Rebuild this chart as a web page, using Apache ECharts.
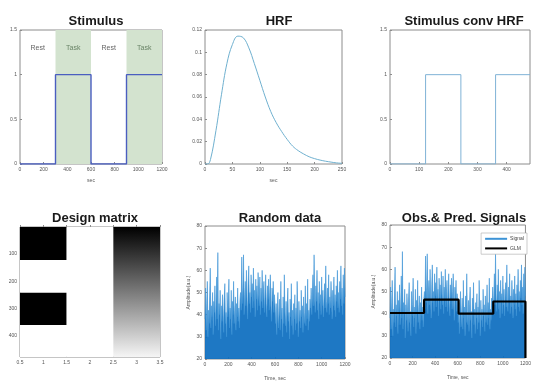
<!DOCTYPE html>
<html>
<head>
<meta charset="utf-8">
<script src="https://cdn.jsdelivr.net/npm/echarts@6/dist/echarts.min.js"></script>
<style>
  html, body { margin: 0; padding: 0; background: #fff; }
  #main { width: 534px; height: 383px; }
</style>
</head>
<body>
<div id="main"></div>
<script>
// ---------- data ----------
// stimulus (boxcar), sec
var stimTime = [0, 300, 300, 600, 600, 900, 900, 1200];
var stimVal = [0, 0, 1, 1, 0, 0, 1, 1];
var taskBlocks = [[300, 600], [900, 1200]];
var blockNames = ['Rest', 'Task', 'Rest', 'Task'];
var blockCenters = [150, 450, 750, 1050];

// HRF, sampled every 10 sec
var hrfTime = [0, 5, 10, 20, 30, 40, 50, 60, 70, 80, 90, 100, 110, 120, 130, 140, 150,
  160, 170, 180, 190, 200, 210, 220, 230, 240, 250];
var hrfVal = [0, 0, 0.004, 0.03, 0.062, 0.09, 0.107, 0.1145, 0.113, 0.104, 0.09, 0.075,
  0.06, 0.047, 0.037, 0.029, 0.022, 0.016, 0.012, 0.009, 0.0065, 0.0048, 0.0035,
  0.0025, 0.0017, 0.001, 0.0006];

// stimulus convolved with HRF (scans)
var convTime = [0, 122, 122, 243, 243, 362, 362, 480];
var convVal = [0, 0, 1, 1, 0, 0, 1, 1];

// design matrix columns: [rowStart, rowEnd, level]
var designReg = [[0, 122, 0], [122, 243, 1], [243, 362, 0], [362, 480, 1]];
var designConst = [[0, 480, 1]];
var designTrend = [0, 0.96]; // gray level at top / bottom

// observed signal, one value every 5 sec
var sigStep = 5;
var signal = [
  38, 52, 33, 45, 55, 30, 42, 36, 48, 61, 34, 44, 39, 50, 31, 46, 41, 53, 35, 43,
  57, 38, 68, 33, 45, 40, 51, 29, 44, 37, 49, 42, 32, 47, 54, 36, 41, 30, 50, 39,
  44, 56, 34, 43, 38, 51, 31, 46, 40, 55, 36, 42, 48, 33, 45, 39, 52, 37, 43, 34, 47,
  50, 42, 66, 45, 52, 67, 40, 49, 55, 44, 60, 47, 38, 53, 62, 45, 50, 41, 58, 48,
  54, 43, 61, 46, 51, 39, 56, 47, 53, 42, 59, 49, 44, 57, 40, 52, 46, 60, 43, 50,
  55, 41, 48, 58, 45, 39, 53, 47, 56, 42, 50, 58, 44, 37, 52, 46, 55, 41, 49, 44,
  36, 45, 31, 42, 50, 34, 40, 47, 33, 55, 38, 43, 30, 48, 36, 58, 41, 35, 46, 32,
  44, 52, 37, 41, 29, 47, 39, 54, 35, 42, 31, 45, 38, 49, 33, 43, 36, 55, 40, 30,
  46, 37, 42, 34, 51, 39, 44, 32, 48, 36, 41, 53, 35, 45, 38, 56, 33, 42, 37, 47,
  43, 52, 40, 48, 58, 44, 67, 47, 41, 53, 46, 60, 42, 50, 38, 55, 45, 49, 40, 57,
  44, 51, 39, 47, 54, 43, 62, 46, 41, 52, 45, 58, 40, 48, 43, 55, 47, 38, 51, 44,
  57, 42, 49, 39, 53, 46, 60, 43, 50, 41, 55, 47, 62, 44, 52, 40, 58, 45, 61, 48
];

// GLM prediction
var glmTime = [0, 302, 302, 608, 608, 915, 915, 1200, 1200];
var glmVal = [40.3, 40.3, 46.3, 46.3, 40, 40, 45.5, 45.5, 20];

// ---------- helpers ----------
function pairs(xs, ys) {
  return xs.map(function (x, i) { return [x, ys[i]]; });
}
var signalData = signal.map(function (v, i) { return [i * sigStep, v]; });

var tickFont = {fontSize: 5, color: '#555', margin: 3, formatter: function (v) { return String(v); }};
var boxColor = '#8c8c8c';

function xAx(idx, min, max, interval, name, extra) {
  var ax = {
    gridIndex: idx, type: 'value', min: min, max: max, interval: interval,
    axisLine: {show: false}, splitLine: {show: false},
    axisTick: {inside: true, length: 2, lineStyle: {color: boxColor}},
    axisLabel: tickFont,
    name: name || '', nameLocation: 'middle', nameGap: 14,
    nameTextStyle: {fontSize: 5, color: '#555'}
  };
  return Object.assign(ax, extra || {});
}
function yAx(idx, min, max, interval, name, extra) {
  var ax = {
    gridIndex: idx, type: 'value', min: min, max: max, interval: interval,
    axisLine: {show: false}, splitLine: {show: false},
    axisTick: {inside: true, length: 2, lineStyle: {color: boxColor}},
    axisLabel: tickFont,
    name: name || '', nameLocation: 'middle', nameGap: 14, nameRotate: 90,
    nameTextStyle: {fontSize: 5, color: '#555'}
  };
  return Object.assign(ax, extra || {});
}

var grids = [
  {left: 20, top: 30, width: 142, height: 134},
  {left: 205, top: 30, width: 137, height: 134},
  {left: 390, top: 30, width: 140, height: 134},
  {left: 20, top: 227, width: 140, height: 130},
  {left: 205, top: 226, width: 140, height: 133},
  {left: 390, top: 225, width: 139, height: 133}
].map(function (g) {
  return Object.assign({show: true, borderColor: boxColor, borderWidth: 1, backgroundColor: 'transparent'}, g);
});

var titleStyle = {fontSize: 13, fontWeight: 'bold', color: '#1a1a1a', fontFamily: 'Liberation Sans'};
function ttl(text, x, y) {
  return {text: text, left: x, top: y, textAlign: 'center', textStyle: titleStyle};
}

var chart = echarts.init(document.getElementById('main'));

var option = {
  backgroundColor: '#fff',
  animation: false,
  textStyle: {fontFamily: 'Liberation Sans'},
  title: [
    ttl('Stimulus', 91, 10),
    ttl('HRF', 274, 10),
    ttl('Stimulus conv HRF', 459, 10),
    ttl('Design matrix', 90, 207),
    ttl('Random data', 275, 207),
    ttl('Obs.& Pred. Signals', 459, 207)
  ],
  grid: grids,
  legend: {
    right: 7, top: 233, orient: 'vertical',
    data: ['Signal', 'GLM'],
    itemWidth: 22, itemHeight: 7, itemGap: 4,
    padding: [3, 3],
    borderColor: '#aaa', borderWidth: 0.6, backgroundColor: '#fff',
    align: 'left',
    itemStyle: {opacity: 0},
    textStyle: {fontSize: 5, color: '#444', padding: [0, 0, 0, -2]}
  },
  xAxis: [
    xAx(0, 0, 1200, 200, 'sec'),
    xAx(1, 0, 250, 50, 'sec'),
    xAx(2, 0, 480, 100, '', {axisLabel: Object.assign({}, tickFont, {showMaxLabel: false})}),
    xAx(3, 0.5, 3.5, 0.5, ''),
    xAx(4, 0, 1200, 200, 'Time, sec', {nameGap: 17}),
    xAx(5, 0, 1200, 200, 'Time, sec', {nameGap: 17})
  ],
  yAxis: [
    yAx(0, 0, 1.5, 0.5),
    yAx(1, 0, 0.12, 0.02),
    yAx(2, 0, 1.5, 0.5),
    yAx(3, 0, 480, 100, '', {inverse: true, axisLabel: Object.assign({}, tickFont, {showMinLabel: false, showMaxLabel: false})}),
    yAx(4, 20, 80, 10, 'Amplitude(a.u.)', {nameGap: 14}),
    yAx(5, 20, 80, 10, 'Amplitude(a.u.)', {nameGap: 14})
  ],
  series: [
    {
      name: 'stim', type: 'line', xAxisIndex: 0, yAxisIndex: 0,
      data: pairs(stimTime, stimVal), symbol: 'none',
      lineStyle: {color: '#4a5ec0', width: 1.4}, z: 3,
      markArea: {
        silent: true,
        itemStyle: {color: '#d3e3cf'},
        data: taskBlocks.map(function (b) { return [{xAxis: b[0], yAxis: 0}, {xAxis: b[1], yAxis: 1.5}]; })
      }
    },
    {
      name: 'blocks', type: 'scatter', xAxisIndex: 0, yAxisIndex: 0,
      symbolSize: 0, silent: true, z: 4,
      data: blockCenters.map(function (c, i) {
        return {value: [c, 1.3], name: blockNames[i],
          label: {color: blockNames[i] === 'Task' ? '#4f6b4c' : '#3a3a3a'}};
      }),
      label: {
        show: true, position: 'inside', fontSize: 7,
        formatter: function (p) { return p.name; }
      },
      itemStyle: {color: 'transparent'}
    },
    {
      name: 'hrf', type: 'line', xAxisIndex: 1, yAxisIndex: 1, smooth: 0.4,
      data: pairs(hrfTime, hrfVal), symbol: 'none',
      lineStyle: {color: '#6fb0cf', width: 1}
    },
    {
      name: 'conv', type: 'line', xAxisIndex: 2, yAxisIndex: 2,
      data: pairs(convTime, convVal), symbol: 'none',
      lineStyle: {color: '#7fb2d6', width: 1}
    },
    {
      name: 'design', type: 'custom', xAxisIndex: 3, yAxisIndex: 3,
      data: [].concat(
        designReg.map(function (d) { return [1, d[0], d[1], d[2]]; }),
        designConst.map(function (d) { return [2, d[0], d[1], d[2]]; }),
        [[3, 0, 480, -1]]
      ),
      renderItem: function (params, api) {
        var col = api.value(0);
        var p0 = api.coord([col - 0.5, api.value(1)]);
        var p1 = api.coord([col + 0.5, api.value(2)]);
        var lvl = api.value(3);
        var fill;
        if (lvl < 0) {
          var g0 = Math.round(designTrend[0] * 255), g1 = Math.round(designTrend[1] * 255);
          fill = new echarts.graphic.LinearGradient(0, 0, 0, 1, [
            {offset: 0, color: 'rgb(' + g0 + ',' + g0 + ',' + g0 + ')'},
            {offset: 1, color: 'rgb(' + g1 + ',' + g1 + ',' + g1 + ')'}
          ]);
        } else {
          var g = Math.round(lvl * 255);
          fill = 'rgb(' + g + ',' + g + ',' + g + ')';
        }
        return {
          type: 'rect',
          shape: {x: p0[0], y: p0[1], width: p1[0] - p0[0], height: p1[1] - p0[1]},
          style: {fill: fill}
        };
      }
    },
    {
      name: 'Random', type: 'line', xAxisIndex: 4, yAxisIndex: 4,
      data: signalData, symbol: 'none',
      lineStyle: {color: '#3c93d6', width: 0.6},
      areaStyle: {color: '#0b6cbf', opacity: 0.92, origin: 'start'}
    },
    {
      name: 'Signal', type: 'line', xAxisIndex: 5, yAxisIndex: 5,
      data: signalData, symbol: 'none',
      lineStyle: {color: '#3c93d6', width: 0.6},
      areaStyle: {color: '#0b6cbf', opacity: 0.92, origin: 'start'}
    },
    {
      name: 'GLM', type: 'line', xAxisIndex: 5, yAxisIndex: 5,
      data: pairs(glmTime, glmVal), symbol: 'none',
      lineStyle: {color: '#000', width: 2.2}, z: 5
    }
  ]
};

chart.setOption(option);
</script>
</body>
</html>
